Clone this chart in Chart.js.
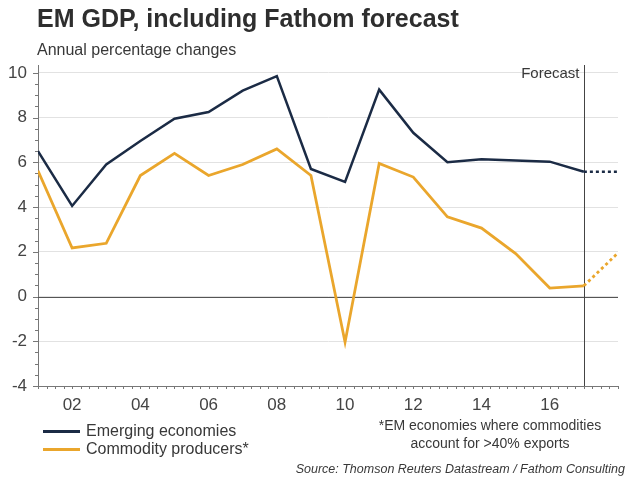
<!DOCTYPE html>
<html lang="en">
<head>
    <meta charset="UTF-8">
    <title>EM GDP, including Fathom forecast</title>
    <script src="https://cdnjs.cloudflare.com/ajax/libs/Chart.js/4.4.1/chart.umd.min.js"></script>
    <style>
        body {
            margin: 0;
            padding: 0;
            background: #ffffff;
            font-family: "Liberation Sans", Arial, sans-serif;
            color: #333;
        }
        .wrap {
            position: relative;
            width: 640px;
            height: 480px;
            overflow: hidden;
        }
        .wrap canvas {
            position: absolute;
            left: 0;
            top: 0;
        }
        .wrap div {
            position: absolute;
            white-space: nowrap;
        }
        .title {
            left: 37px;
            top: 6px;
            font-size: 25px;
            line-height: 25px;
            font-weight: bold;
            color: #2e2e2e;
        }
        .subtitle {
            left: 37px;
            top: 42px;
            font-size: 16px;
            line-height: 16px;
            color: #383838;
        }
        .legend {
            left: 43px;
            top: 422px;
            font-size: 16px;
            color: #383838;
            line-height: 18px;
        }
        .legend span {
            display: inline-block;
            width: 37px;
            height: 3px;
            margin-right: 6px;
            vertical-align: middle;
        }
        .note {
            left: 350px;
            width: 280px;
            top: 416px;
            text-align: center;
            font-size: 14px;
            line-height: 18px;
            color: #383838;
        }
        .source {
            right: 15px;
            top: 462px;
            font-size: 12.5px;
            line-height: 14px;
            font-style: italic;
            color: #383838;
        }
    </style>
</head>
<body>
    <div class="wrap">
        <canvas id="gdpChart" width="640" height="480"></canvas>
        <div class="title">EM GDP, including Fathom forecast</div>
        <div class="subtitle">Annual percentage changes</div>
        <div class="legend">
            <div style="position:static"><span style="background:#1b2b45"></span>Emerging economies</div>
            <div style="position:static"><span style="background:#eaa62c"></span>Commodity producers*</div>
        </div>
        <div class="note">*EM economies where commodities<br>account for &gt;40% exports</div>
        <div class="source">Source: Thomson Reuters Datastream / Fathom Consulting</div>
    </div>

    <script>
        // Data
        const years = [2001, 2002, 2003, 2004, 2005, 2006, 2007, 2008, 2009,
                       2010, 2011, 2012, 2013, 2014, 2015, 2016, 2017, 2018];
        const emerging = [6.5, 4.05, 5.9, 6.95, 7.95, 8.25, 9.2, 9.85, 5.7,
                          5.12, 9.25, 7.32, 6.0, 6.14, 6.08, 6.03, 5.58, 5.58];
        const commodity = [5.62, 2.17, 2.38, 5.41, 6.4, 5.41, 5.9, 6.6, 5.41,
                           -2.04, 5.95, 5.34, 3.56, 3.06, 1.92, 0.38, 0.48, 1.95];
        const xTicks = [2002, 2004, 2006, 2008, 2010, 2012, 2014, 2016];
        const yTicks = [-4, -2, 0, 2, 4, 6, 8, 10];
        const forecastYear = 2017;

        const points = (vals) => years.map((y, i) => ({ x: y, y: vals[i] }));
        const forecastDash = (ctx) => ctx.p0.parsed.x >= forecastYear ? [3, 3] : undefined;

        // minor ticks, zero line and forecast marker
        const extras = {
            id: 'extras',
            beforeDatasetsDraw(chart) {
                const { ctx, chartArea, scales } = chart;
                const x = scales.x, y = scales.y;
                ctx.save();
                ctx.strokeStyle = '#777';
                ctx.lineWidth = 1;
                ctx.beginPath();
                for (let v = -4; v <= 10.001; v += 0.5) {
                    const py = Math.round(y.getPixelForValue(v)) + 0.5;
                    const len = Number.isInteger(v / 2) ? 5 : 3;
                    ctx.moveTo(chartArea.left - len, py);
                    ctx.lineTo(chartArea.left, py);
                }
                for (let v = 2001; v <= 2018.001; v += 0.25) {
                    const px = Math.round(x.getPixelForValue(v)) + 0.5;
                    ctx.moveTo(px, chartArea.bottom);
                    ctx.lineTo(px, chartArea.bottom + 3);
                }
                ctx.stroke();
                // zero line
                const y0 = Math.round(y.getPixelForValue(0)) + 0.5;
                ctx.strokeStyle = '#555';
                ctx.beginPath();
                ctx.moveTo(chartArea.left, y0);
                ctx.lineTo(chartArea.right, y0);
                ctx.stroke();
                // forecast line
                const fx = Math.round(x.getPixelForValue(forecastYear)) + 0.5;
                ctx.strokeStyle = '#444';
                ctx.beginPath();
                ctx.moveTo(fx, chartArea.top);
                ctx.lineTo(fx, chartArea.bottom);
                ctx.stroke();
                ctx.fillStyle = '#383838';
                ctx.font = '15px "Liberation Sans", Arial, sans-serif';
                ctx.textAlign = 'right';
                ctx.textBaseline = 'alphabetic';
                ctx.fillText('Forecast', fx - 5, chartArea.top + 13);
                ctx.restore();
            }
        };

        new Chart(document.getElementById('gdpChart'), {
            type: 'line',
            data: {
                datasets: [{
                    label: 'Emerging economies',
                    data: points(emerging),
                    borderColor: '#1b2b45',
                    borderWidth: 2.5,
                    pointRadius: 0,
                    tension: 0,
                    segment: { borderDash: forecastDash }
                }, {
                    label: 'Commodity producers*',
                    data: points(commodity),
                    borderColor: '#eaa62c',
                    borderWidth: 2.8,
                    pointRadius: 0,
                    tension: 0,
                    segment: { borderDash: forecastDash }
                }]
            },
            options: {
                responsive: false,
                animation: false,
                layout: { padding: { left: 0, right: 22, top: 65, bottom: 62 } },
                plugins: {
                    legend: { display: false },
                    tooltip: { enabled: false }
                },
                scales: {
                    x: {
                        type: 'linear',
                        min: 2001,
                        max: 2018,
                        afterBuildTicks: (axis) => { axis.ticks = xTicks.map(v => ({ value: v })); },
                        grid: { display: false, drawTicks: false },
                        border: { display: true, color: '#777' },
                        afterFit: (axis) => { axis.height = 32; },
                        ticks: {
                            padding: 9,
                            color: '#444',
                            font: { size: 17, family: '"Liberation Sans", Arial, sans-serif' },
                            callback: (v) => String(v).slice(2)
                        }
                    },
                    y: {
                        min: -4,
                        max: 10.35,
                        afterBuildTicks: (axis) => { axis.ticks = yTicks.map(v => ({ value: v })); },
                        grid: { color: '#e2e2e2', drawTicks: false },
                        border: { display: true, color: '#777' },
                        afterFit: (axis) => { axis.width = 38; },
                        ticks: {
                            padding: 11,
                            color: '#444',
                            font: { size: 17, family: '"Liberation Sans", Arial, sans-serif' }
                        }
                    }
                }
            },
            plugins: [extras]
        });
    </script>
</body>
</html>
